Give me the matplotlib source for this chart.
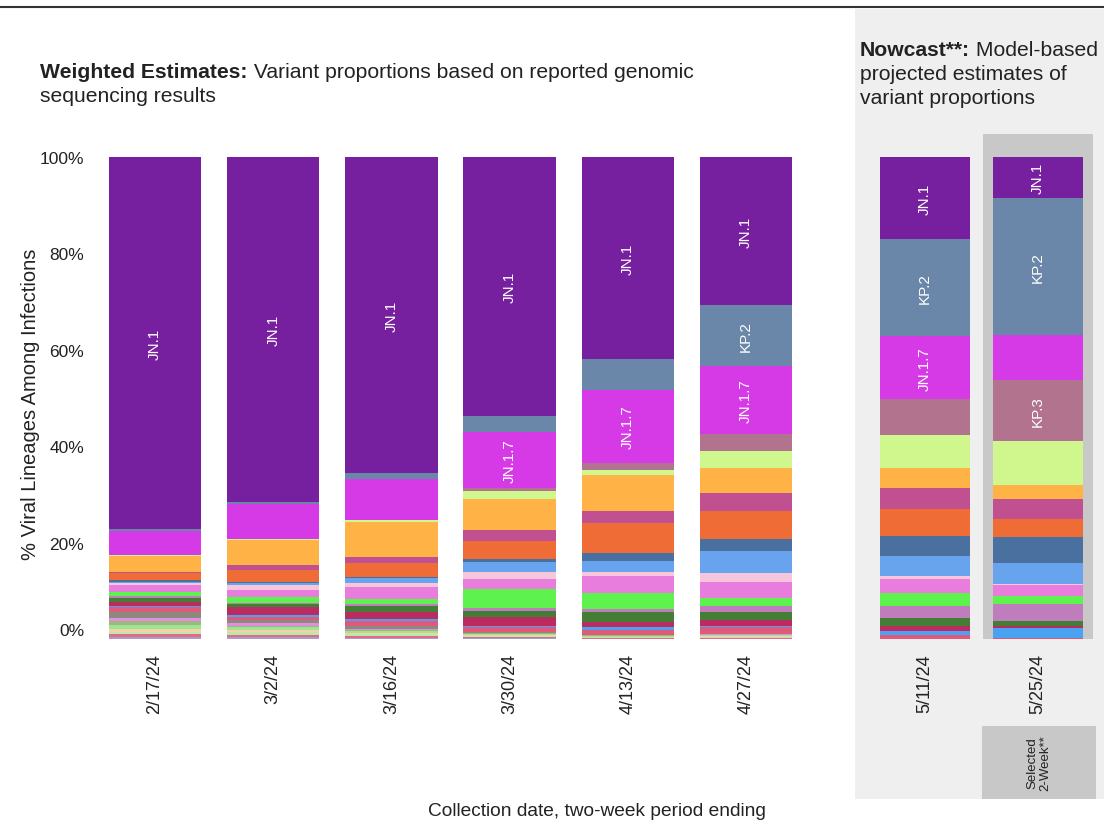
import matplotlib
matplotlib.use("Agg")
import matplotlib.pyplot as plt
import matplotlib.transforms as mtransforms
from matplotlib.patches import Rectangle
from matplotlib.lines import Line2D

plt.rcParams['font.family'] = ['Liberation Sans', 'DejaVu Sans']

# two-week periods
weeks = ["2/17/24", "3/2/24", "3/16/24", "3/30/24", "4/13/24", "4/27/24"]
nowcast_weeks = ["5/11/24", "5/25/24"]
all_weeks = weeks + nowcast_weeks

# % of infections per lineage, 6 weighted periods + 2 nowcast periods
other_a   = [0.5, 0.4, 0.3, 0.2, 0.1, 0.1, 0, 0]
other_b   = [0.5, 0.4, 0.4, 0.2, 0.2, 0.2, 0, 0]
other_c   = [0.5, 0.6, 0.3, 0.2, 0.1, 0.2, 0, 0]
other_d   = [0.5, 0.5, 0.3, 0.2, 0.1, 0.1, 0, 0]
other_e   = [1.0, 0.5, 0.3, 0.2, 0.2, 0.2, 0, 0]
other_f   = [0.7, 0.4, 0.3, 0.2, 0.1, 0.1, 0, 0]
other_g   = [0.7, 0.5, 0.2, 0.1, 0.05, 0.05, 0, 0]
other_h   = [1.2, 0.7, 0.5, 0.1, 0.05, 0.05, 0, 0]
jn1_4     = [1.0, 0.6, 1.2, 1.0, 1.0, 1.4, 0.8, 0.3]
jn1_13    = [0.3, 0.3, 0.3, 0.3, 0.5, 0.3, 0.9, 1.9]
jn1_8_1   = [0.8, 1.7, 1.4, 1.9, 1.2, 1.2, 1.0, 0.6]
jn1_4_3   = [0.9, 0.7, 1.4, 1.2, 1.9, 1.6, 1.7, 1.0]
kq1       = [0.3, 0.2, 0.3, 0.6, 0.7, 1.4, 2.5, 3.5]
jn1_16_1  = [0.8, 1.2, 1.2, 3.9, 3.3, 1.7, 2.6, 1.7]
ks1       = [1.4, 1.5, 2.3, 2.1, 3.5, 3.2, 3.0, 2.1]
jn1_11_1  = [0.5, 1.0, 1.0, 1.6, 0.9, 1.9, 0.6, 0.3]
jn1_16    = [0.3, 0.4, 0.9, 1.9, 2.3, 4.5, 4.1, 4.3]
kp1_1     = [0.3, 0.2, 0.3, 0.7, 1.7, 2.5, 4.2, 5.4]
jn1_13_1  = [1.4, 2.6, 2.9, 3.8, 6.1, 5.8, 5.5, 3.9]
kp1       = [0.3, 0.9, 1.2, 2.3, 2.6, 3.7, 4.5, 4.1]
jn1_18    = [3.4, 5.3, 7.2, 6.4, 7.4, 5.3, 4.1, 2.9]
lb1       = [0.1, 0.2, 0.4, 1.7, 1.0, 3.5, 6.9, 9.1]
kp3       = [0, 0, 0, 0.5, 1.5, 3.5, 7.3, 12.7]
jn1_7     = [5.1, 7.3, 8.6, 11.6, 15.2, 14.1, 13.1, 9.2]
kp2       = [0.3, 0.4, 1.2, 3.3, 6.4, 12.7, 20.2, 28.5]
jn1       = [77.2, 71.5, 65.6, 53.8, 41.9, 30.7, 17.0, 8.5]

# stacking order bottom -> top
series = [
    ("other", "#A89CCC", other_a),
    ("other", "#E46A8A", other_b),
    ("other", "#BDE8A8", other_c),
    ("other", "#F4D2AE", other_d),
    ("other", "#9EE68E", other_e),
    ("other", "#9DB87C", other_f),
    ("other", "#E28CE6", other_g),
    ("other", "#8C8A7C", other_h),
    ("JN.1.4", "#E0587A", jn1_4),
    ("JN.1.13", "#4AA2F2", jn1_13),
    ("JN.1.8.1", "#BB2B5F", jn1_8_1),
    ("JN.1.4.3", "#447E36", jn1_4_3),
    ("KQ.1", "#C07DBE", kq1),
    ("JN.1.16.1", "#5EF24E", jn1_16_1),
    ("KS.1", "#E87DDE", ks1),
    ("JN.1.11.1", "#F8C6DA", jn1_11_1),
    ("JN.1.16", "#68A4EE", jn1_16),
    ("KP.1.1", "#4A70A0", kp1_1),
    ("JN.1.13.1", "#F06C36", jn1_13_1),
    ("KP.1", "#C0508F", kp1),
    ("JN.1.18", "#FFB347", jn1_18),
    ("LB.1", "#CFF78E", lb1),
    ("KP.3", "#B2738E", kp3),
    ("JN.1.7", "#D63AE6", jn1_7),
    ("KP.2", "#6A86A8", kp2),
    ("JN.1", "#7620A0", jn1),
]

W, H = 1104.0, 829.0
def fx(px):
    return px / W
def fy(py):
    return 1 - py / H

fig = plt.figure(figsize=(11.04, 8.29), dpi=100)

# nowcast panel background
fig.add_artist(Rectangle((fx(855), fy(800)), 1 - fx(855), fy(10) - fy(800),
                         transform=fig.transFigure, facecolor="#EFEFEF",
                         edgecolor="none", zorder=-2))
fig.add_artist(Line2D([0, 1], [fy(8), fy(8)], color="#333333", lw=1.5))

ax1 = fig.add_axes([fx(96), fy(640), fx(805) - fx(96), fy(158) - fy(640)])
ax2 = fig.add_axes([fx(868.5), fy(640), fx(1094.5) - fx(868.5), fy(158) - fy(640)])


def draw_stack(ax, cols, width):
    x = list(range(len(cols)))
    bottom = [0.0] * len(cols)
    for name, color, vals in series:
        v = [vals[c] for c in cols]
        ax.bar(x, v, width, bottom=bottom, color=color, edgecolor="none", zorder=2)
        for i, val in enumerate(v):
            if name != "other" and (val >= 10 or name == "JN.1"):
                ax.text(x[i], bottom[i] + val / 2, name, rotation=90, color="white",
                        ha="center", va="center", fontsize=11, zorder=3)
        bottom = [b + val for b, val in zip(bottom, v)]
    ax.set_xlim(-0.5, len(cols) - 0.5)
    ax.set_ylim(0, 100)
    ax.set_xticks(x)
    ax.set_xticklabels([all_weeks[c] for c in cols], rotation=90, fontsize=13,
                       color="#222222")
    ax.tick_params(axis="x", length=0, pad=10)
    for s in ax.spines.values():
        s.set_visible(False)
    ax.patch.set_visible(False)


draw_stack(ax1, [0, 1, 2, 3, 4, 5], 0.78)
draw_stack(ax2, [6, 7], 0.8)

# y axis
ax1.set_yticks([0, 20, 40, 60, 80, 100])
ax1.set_yticklabels(["0%", "20%", "40%", "60%", "80%", "100%"], fontsize=12.5,
                    color="#222222")
ax1.tick_params(axis="y", length=0, pad=8.5)
lab0 = ax1.get_yticklabels()[0]
lab0.set_transform(lab0.get_transform() +
                   mtransforms.ScaledTranslation(0, 0.1, fig.dpi_scale_trans))
ax2.set_yticks([])

# highlighted nowcast week
ax2.add_patch(Rectangle((1 - 0.487, 0), 0.974, 104.8, facecolor="#C8C8C8",
                        edgecolor="none", clip_on=False, zorder=1))
fig.add_artist(Rectangle((fx(982), fy(800)), fx(1096) - fx(982), fy(727) - fy(800),
                         transform=fig.transFigure, facecolor="#C8C8C8",
                         edgecolor="none", zorder=-1))
fig.text(fx(1039), fy(763), "Selected\n2-Week**", rotation=90, ha="center",
         va="center", fontsize=9.5, color="#222222", linespacing=1.1)

fig.text(fx(31), fy(404), "% Viral Lineages Among Infections", rotation=90,
         ha="center", va="center", fontsize=14.5, color="#222222")
fig.text(fx(597), fy(812), "Collection date, two-week period ending",
         ha="center", va="center", fontsize=13.8, color="#222222")

# titles: bold lead-in followed by regular text
renderer = fig.canvas.get_renderer()

def title_line(x, y, bold, rest, size):
    t = fig.text(x, y, bold, fontweight="bold", fontsize=size, va="center",
                 color="#222222")
    bb = t.get_window_extent(renderer)
    fig.text(bb.x1 / fig.bbox.width, y, rest, fontsize=size, va="center",
             color="#222222")

title_line(fx(40), fy(73), "Weighted Estimates:",
           " Variant proportions based on reported genomic", 15.2)
fig.text(fx(40), fy(96), "sequencing results", fontsize=15.2, va="center",
         color="#222222")

title_line(fx(860), fy(50), "Nowcast**:", " Model-based", 15.2)
fig.text(fx(860), fy(74), "projected estimates of", fontsize=15.2, va="center",
         color="#222222")
fig.text(fx(860), fy(98), "variant proportions", fontsize=15.2, va="center",
         color="#222222")

plt.savefig("out.png", dpi=100)
